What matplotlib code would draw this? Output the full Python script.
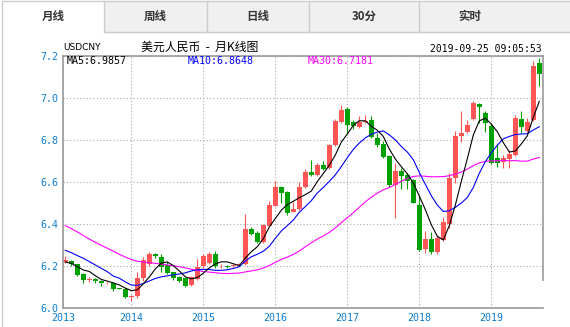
import numpy as np
import pandas as pd
import matplotlib
matplotlib.use('Agg')
import matplotlib.pyplot as plt
from matplotlib.patches import Rectangle
from matplotlib.lines import Line2D

plt.rcParams['font.family'] = ['Noto Sans CJK SC', 'DejaVu Sans']

# monthly USDCNY candles, Feb 2013 .. Sep 2019
months = pd.period_range('2013-02', '2019-09', freq='M')

opens = [6.218, 6.222, 6.207, 6.160, 6.131, 6.135, 6.127, 6.116, 6.120, 6.094,
         6.090, 6.050, 6.056, 6.140, 6.210, 6.256, 6.244, 6.205, 6.169, 6.145,
         6.140, 6.108, 6.137, 6.199, 6.215, 6.256, 6.197, 6.201, 6.200, 6.205,
         6.209, 6.376, 6.358, 6.315, 6.392, 6.487, 6.578, 6.551, 6.458, 6.471,
         6.575, 6.650, 6.634, 6.683, 6.666, 6.777, 6.888, 6.947, 6.888, 6.864,
         6.885, 6.896, 6.812, 6.782, 6.726, 6.586, 6.653, 6.634, 6.610, 6.490,
         6.280, 6.328, 6.265, 6.323, 6.400, 6.618, 6.820, 6.840, 6.901, 6.973,
         6.931, 6.868, 6.713, 6.697, 6.709, 6.729, 6.901, 6.845, 6.896, 7.167]
highs = [6.247, 6.229, 6.210, 6.166, 6.146, 6.140, 6.130, 6.124, 6.124, 6.096,
         6.093, 6.060, 6.172, 6.244, 6.265, 6.262, 6.255, 6.220, 6.172, 6.150,
         6.142, 6.152, 6.233, 6.255, 6.268, 6.270, 6.210, 6.205, 6.207, 6.215,
         6.447, 6.385, 6.365, 6.400, 6.510, 6.607, 6.580, 6.556, 6.503, 6.598,
         6.660, 6.705, 6.690, 6.700, 6.780, 6.900, 6.968, 6.960, 6.895, 6.916,
         6.918, 6.916, 6.832, 6.795, 6.730, 6.690, 6.666, 6.645, 6.615, 6.533,
         6.365, 6.360, 6.347, 6.435, 6.642, 6.844, 6.941, 6.896, 6.985, 6.978,
         6.940, 6.880, 6.780, 6.730, 6.753, 6.920, 6.941, 6.905, 7.178, 7.190]
lows = [6.215, 6.200, 6.152, 6.117, 6.124, 6.120, 6.105, 6.112, 6.078, 6.087,
        6.045, 6.032, 6.045, 6.128, 6.198, 6.236, 6.170, 6.160, 6.134, 6.125,
        6.098, 6.104, 6.130, 6.185, 6.210, 6.190, 6.190, 6.190, 6.196, 6.200,
        6.205, 6.345, 6.310, 6.310, 6.390, 6.485, 6.500, 6.445, 6.455, 6.468,
        6.570, 6.630, 6.630, 6.658, 6.662, 6.770, 6.880, 6.830, 6.855, 6.860,
        6.880, 6.810, 6.765, 6.715, 6.575, 6.430, 6.567, 6.567, 6.498, 6.270,
        6.262, 6.256, 6.256, 6.320, 6.379, 6.597, 6.793, 6.835, 6.895, 6.884,
        6.840, 6.685, 6.673, 6.666, 6.666, 6.725, 6.833, 6.840, 6.890, 7.057]
closes = [6.228, 6.208, 6.158, 6.133, 6.138, 6.127, 6.118, 6.120, 6.088, 6.091,
          6.052, 6.057, 6.140, 6.228, 6.255, 6.246, 6.196, 6.168, 6.140, 6.129,
          6.104, 6.148, 6.196, 6.247, 6.256, 6.197, 6.200, 6.194, 6.203, 6.210,
          6.376, 6.352, 6.315, 6.395, 6.490, 6.578, 6.549, 6.451, 6.471, 6.578,
          6.650, 6.634, 6.680, 6.661, 6.777, 6.892, 6.944, 6.873, 6.869, 6.885,
          6.892, 6.814, 6.777, 6.721, 6.586, 6.653, 6.630, 6.607, 6.502, 6.276,
          6.328, 6.267, 6.334, 6.411, 6.620, 6.818, 6.834, 6.873, 6.979, 6.957,
          6.881, 6.693, 6.693, 6.716, 6.733, 6.907, 6.861, 6.888, 7.156, 7.116]

# moving averages before a full window of shown months exists
ma5_head = [6.218, 6.212, 6.196, 6.180]
ma10_head = [6.274, 6.263, 6.249, 6.236, 6.220, 6.204, 6.188, 6.172, 6.151]
ma30_head = [6.392, 6.378, 6.362, 6.345, 6.328, 6.312, 6.298, 6.284, 6.270, 6.255,
             6.242, 6.230, 6.222, 6.218, 6.215, 6.212, 6.208, 6.204, 6.200, 6.196,
             6.190, 6.184, 6.178, 6.173, 6.170, 6.167, 6.164, 6.163, 6.164]

ma_labels = ['MA5:6.9857', 'MA10:6.8648', 'MA30:6.7181']
tab_names = ['月线', '周线', '日线', '30分', '实时']
y_ticks = [6.0, 6.2, 6.4, 6.6, 6.8, 7.0, 7.2]


def moving_avg(head, n):
    rolled = pd.Series(closes).rolling(n).mean().to_numpy()
    return np.concatenate([head, rolled[len(head):]])


ma5 = moving_avg(ma5_head, 5)
ma10 = moving_avg(ma10_head, 10)
ma30 = moving_avg(ma30_head, 30)

W, H = 570, 327
fig = plt.figure(figsize=(W / 100, H / 100), dpi=100)


def fx(x):
    return x / W


def fy(y):
    return 1 - y / H


# tab strip on top
tab_edges = [2, 104, 207, 309, 419, 521]
fig.patches.append(Rectangle((fx(104), fy(31.7)), fx(570 - 104), 31 / H,
                             transform=fig.transFigure, facecolor='#f0f0f0',
                             edgecolor='none', zorder=0))
for i, name in enumerate(tab_names):
    cx = (tab_edges[i] + tab_edges[i + 1]) / 2
    fig.text(fx(cx), fy(16.5), name, ha='center', va='center', fontsize=8.3,
             fontweight='bold', color='#333333')
line_kw = dict(transform=fig.transFigure, color='#cccccc', linewidth=1)
fig.lines.append(Line2D([fx(2), 1], [fy(1), fy(1)], **line_kw))
fig.lines.append(Line2D([fx(104), 1], [fy(31.7), fy(31.7)], **line_kw))
fig.lines.append(Line2D([fx(1.7), fx(1.7)], [0, fy(1)], **line_kw))
for e in tab_edges[1:-1]:
    fig.lines.append(Line2D([fx(e), fx(e)], [fy(31.7), fy(1)], **line_kw))

# chart area
ax = fig.add_axes([fx(63), fy(307.7), (542.5 - 63) / W, (307.7 - 56.4) / H])
x = np.arange(len(months))

for i in x:
    o, h, l, c = opens[i], highs[i], lows[i], closes[i]
    col = '#ff5555' if c >= o else '#00a000'
    ax.vlines(i, l, h, color=col, linewidth=0.8, zorder=2)
    ax.add_patch(Rectangle((i - 0.4, min(o, c)), 0.8, max(abs(c - o), 0.003),
                           facecolor=col, edgecolor='none', zorder=2))

ax.plot(x, ma30, color='#ff00ff', linewidth=0.8, zorder=3)
ax.plot(x, ma10, color='#0000ff', linewidth=0.8, zorder=3)
ax.plot(x, ma5, color='black', linewidth=0.8, zorder=3)

ax.set_xlim(-0.38, 79.53)
ax.set_ylim(6.0, 7.2)

jan_idx = [-0.38] + [i for i, m in enumerate(months) if m.month == 1]
jan_lbl = [str(months[0].year)] + [str(m.year) for m in months if m.month == 1]
ax.set_xticks(jan_idx)
ax.set_xticklabels(jan_lbl)
ax.set_yticks(y_ticks)
ax.set_yticklabels([f'{v:.1f}' for v in y_ticks])
ax.grid(True, color='#aaaaaa', linestyle=(0, (1, 2)), linewidth=0.8, zorder=1)
ax.set_axisbelow(True)
ax.tick_params(length=0, labelsize=7.2, labelcolor='#0b7dd0', pad=3.5)
for lab in ax.get_xticklabels() + ax.get_yticklabels():
    lab.set_family('DejaVu Sans Mono')

for side in ['left', 'bottom', 'top', 'right']:
    ax.spines[side].set_color('#999999')
    ax.spines[side].set_linewidth(1.2)
ax.spines['right'].set_bounds(6.13, 7.2)

# header texts
fig.text(fx(63), fy(48), 'USDCNY', ha='left', va='center', fontsize=6.5,
         family='DejaVu Sans', color='black')
fig.text(fx(200), fy(47.5), '美元人民币  -  月K线图', ha='center', va='center',
         fontsize=8.6, color='black')
fig.text(fx(542), fy(49), '2019-09-25 09:05:53', ha='right', va='center',
         fontsize=7, family='DejaVu Sans Mono', color='black')

ma_x = [66.5, 187.3, 307.7]
ma_colors = ['black', '#0000ff', '#ff00ff']
for lbl, px, col in zip(ma_labels, ma_x, ma_colors):
    fig.text(fx(px), fy(61), lbl, ha='left', va='center', fontsize=7.2,
             family='DejaVu Sans Mono', color=col)

fig.savefig('out.png', dpi=100)
